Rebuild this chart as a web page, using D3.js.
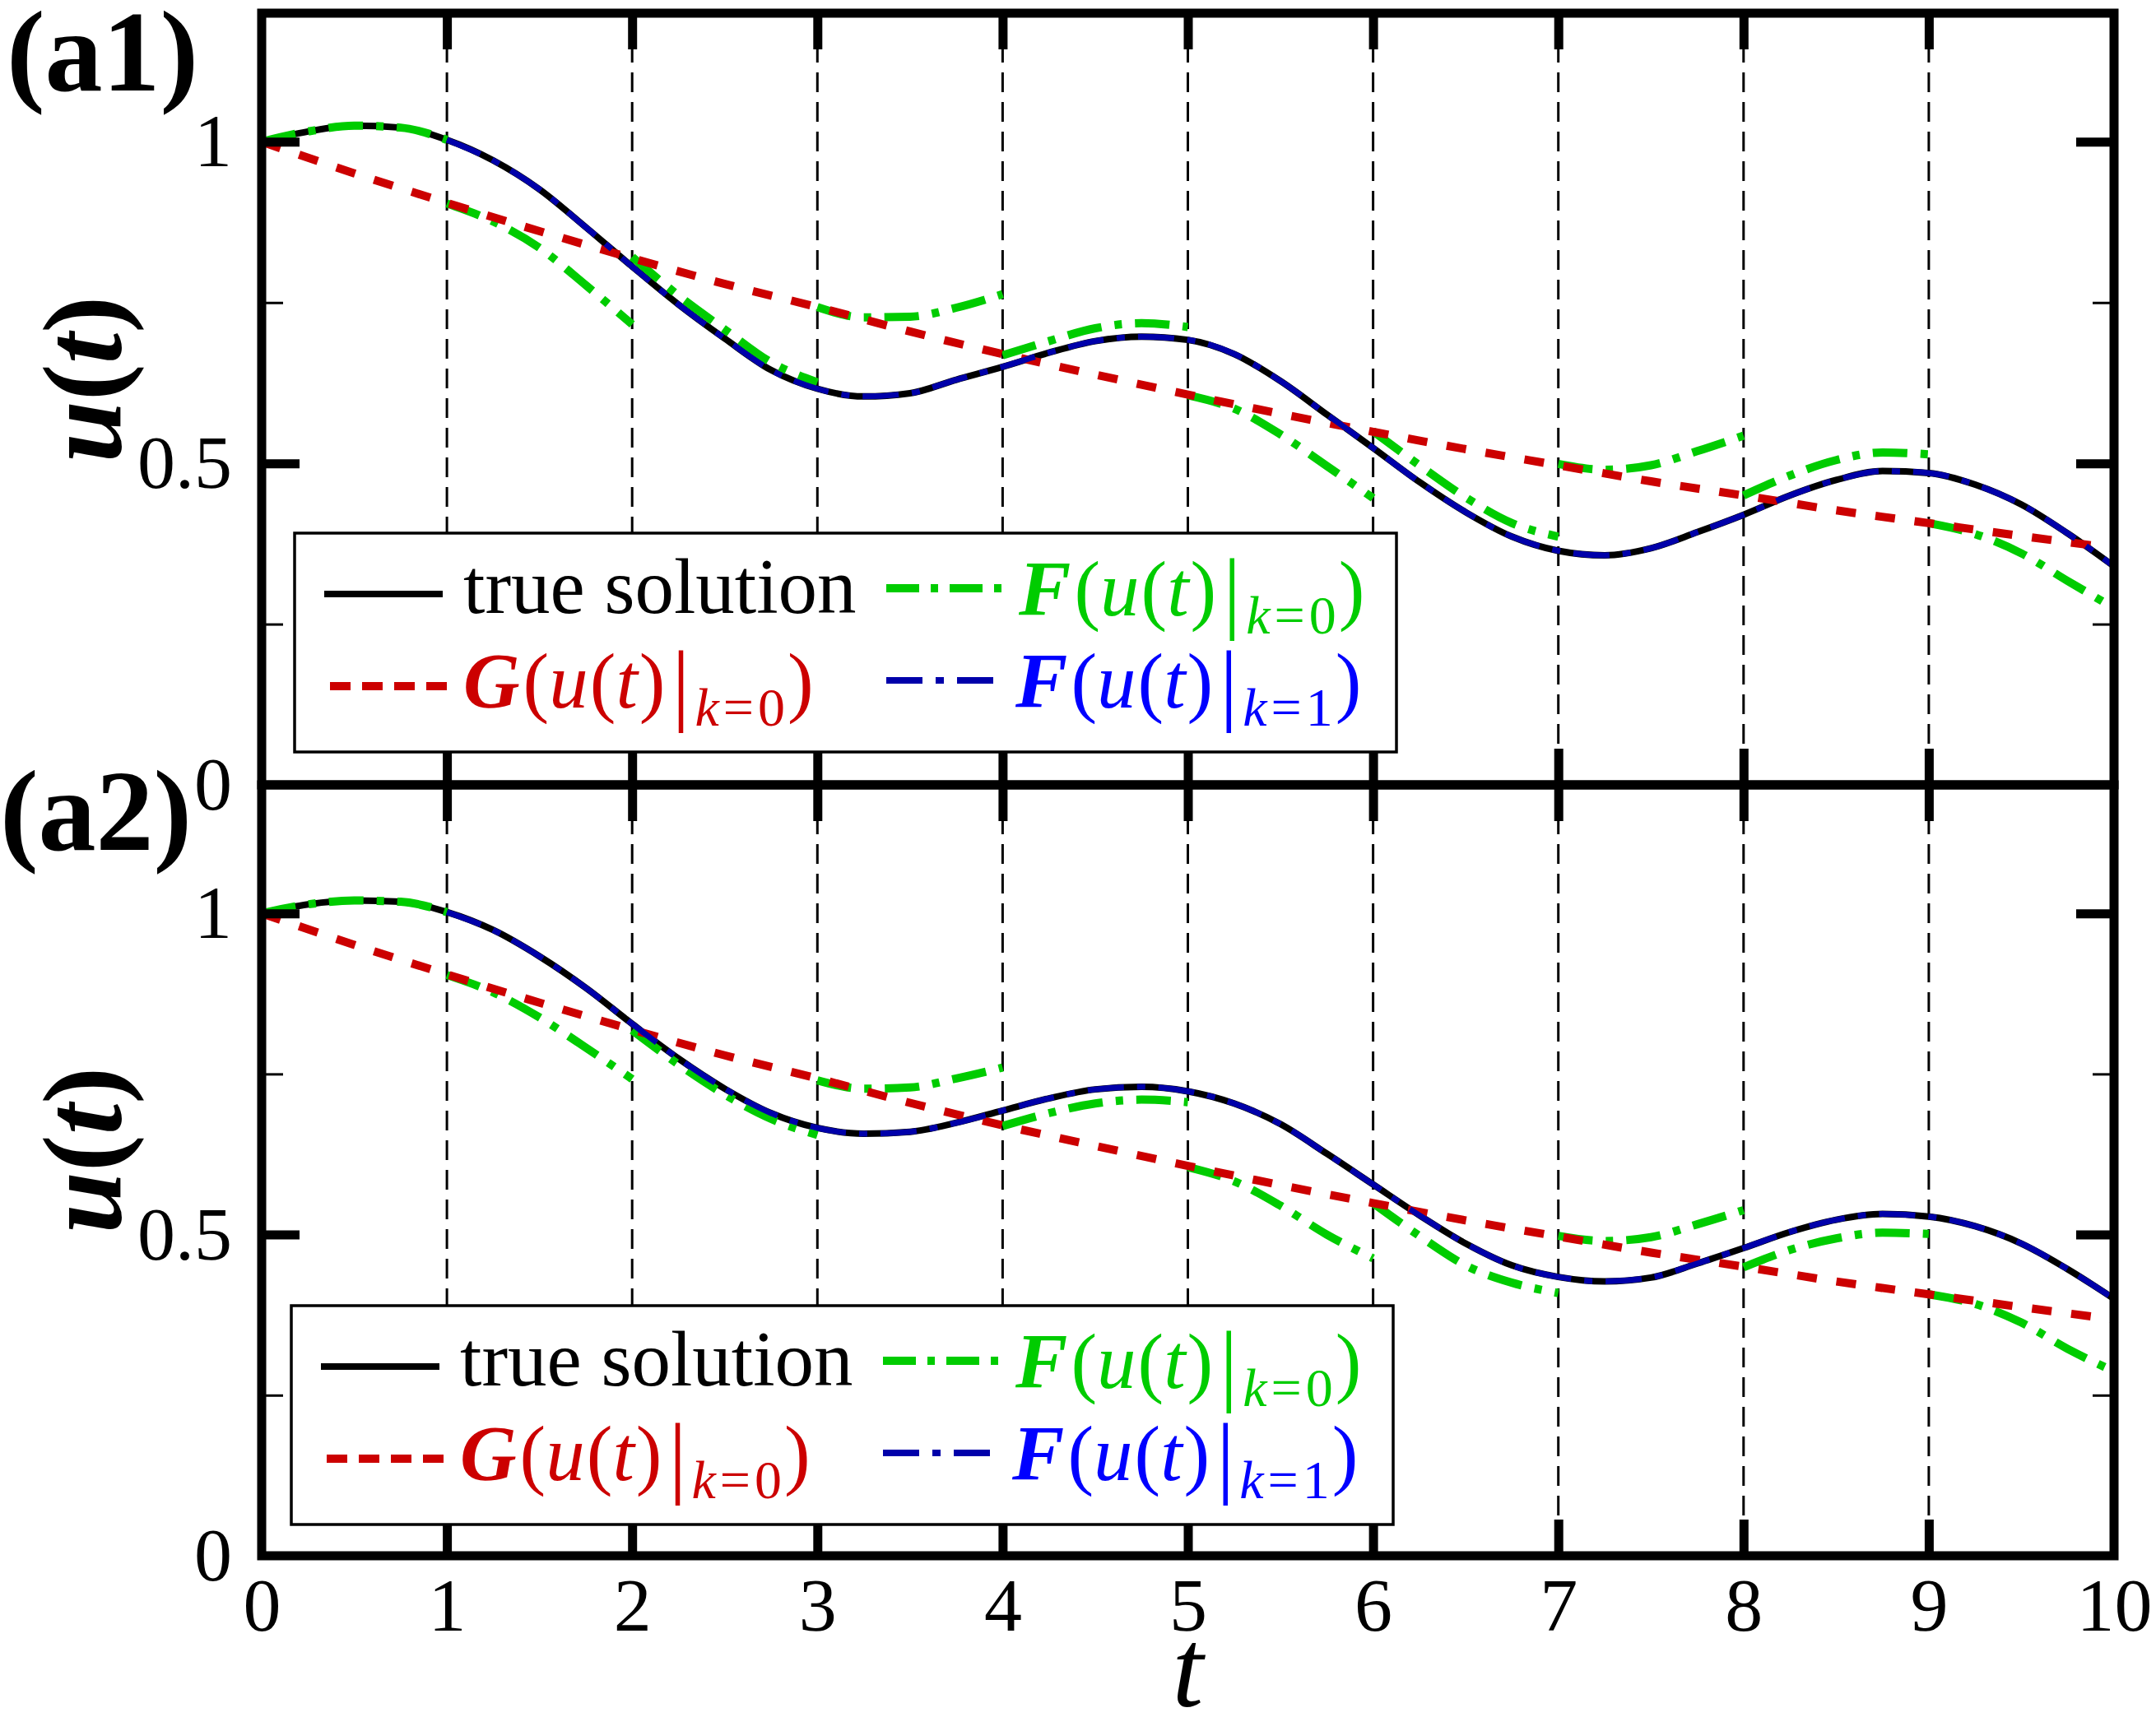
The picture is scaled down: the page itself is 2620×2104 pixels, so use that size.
<!DOCTYPE html>
<html>
<head>
<meta charset="utf-8">
<script src="https://cdn.jsdelivr.net/npm/d3@7"></script>
<style>
  body { margin: 0; background: #fff; }
  svg { display: block; }
  text { font-family: "Liberation Serif", "Times New Roman", serif; }
</style>
</head>
<body>
<svg id="chart" width="2620" height="2104"></svg>
<script>
// ---- data ----
const tGrid = [0, 0.25, 0.5, 0.75, 1, 1.25, 1.5, 1.75, 2, 2.25, 2.5, 2.75, 3, 3.25, 3.5, 3.75, 4, 4.25, 4.5, 4.75,
               5, 5.25, 5.5, 5.75, 6, 6.25, 6.5, 6.75, 7, 7.25, 7.5, 7.75, 8, 8.25, 8.5, 8.75, 9, 9.25, 9.5, 9.75, 10];

const trueA1 = [1.000, 1.016, 1.025, 1.022, 1.003, 0.971, 0.926, 0.867, 0.806, 0.747, 0.694, 0.645, 0.616, 0.604,
                0.609, 0.630, 0.650, 0.672, 0.690, 0.697, 0.692, 0.670, 0.628, 0.576, 0.524, 0.471, 0.424, 0.386,
                0.364, 0.357, 0.368, 0.393, 0.420, 0.450, 0.474, 0.488, 0.485, 0.467, 0.436, 0.391, 0.340];
const trueA2 = [1.000, 1.014, 1.020, 1.018, 1.002, 0.974, 0.933, 0.884, 0.828, 0.774, 0.727, 0.689, 0.666, 0.657,
                0.660, 0.674, 0.693, 0.712, 0.726, 0.730, 0.723, 0.704, 0.672, 0.626, 0.578, 0.530, 0.486, 0.452,
                0.434, 0.427, 0.433, 0.455, 0.479, 0.504, 0.523, 0.532, 0.528, 0.513, 0.486, 0.446, 0.400];

// F(u(t)|k=1), from t = 1 onwards (same grid, starting at index 4)
const fineK1A1 = [1.003, 0.971, 0.926, 0.867, 0.806, 0.747, 0.694, 0.645, 0.616, 0.604,
                  0.609, 0.630, 0.650, 0.672, 0.690, 0.697, 0.692, 0.670, 0.628, 0.576, 0.524, 0.471, 0.424, 0.386,
                  0.364, 0.357, 0.368, 0.393, 0.420, 0.450, 0.474, 0.488, 0.485, 0.467, 0.436, 0.391, 0.340];
const fineK1A2 = [1.002, 0.974, 0.933, 0.884, 0.828, 0.774, 0.727, 0.689, 0.666, 0.657,
                  0.660, 0.674, 0.693, 0.712, 0.726, 0.730, 0.723, 0.704, 0.672, 0.626, 0.578, 0.530, 0.486, 0.452,
                  0.434, 0.427, 0.433, 0.455, 0.479, 0.504, 0.523, 0.532, 0.528, 0.513, 0.486, 0.446, 0.400];

// G(u(t)|k=0), coarse propagator
const gTimes  = [0, 0.5, 1, 1.5, 2, 2.5, 3, 3.5, 4, 4.5, 5, 5.5, 6, 6.5, 7, 7.5, 8, 8.5, 9, 9.5, 10];
const gCoarse = [1.000, 0.951, 0.905, 0.861, 0.819, 0.779, 0.743, 0.705, 0.670, 0.638, 0.607,
                 0.577, 0.549, 0.522, 0.497, 0.472, 0.450, 0.427, 0.407, 0.387, 0.368];

// F(u(t)|k=0): one piece per time slice [n, n+1], sampled at n + sliceOffsets
const sliceOffsets = [0, 0.25, 0.5, 0.75, 1];
const fineK0A1 = [
  [1.000, 1.016, 1.025, 1.022, 1.003],
  [0.904, 0.876, 0.835, 0.777, 0.716],
  [0.821, 0.761, 0.708, 0.657, 0.626],
  [0.743, 0.727, 0.728, 0.742, 0.763],
  [0.668, 0.690, 0.710, 0.718, 0.712],
  [0.606, 0.585, 0.545, 0.496, 0.446],
  [0.550, 0.497, 0.447, 0.407, 0.386],
  [0.499, 0.490, 0.497, 0.519, 0.543],
  [0.450, 0.481, 0.505, 0.517, 0.514],
  [0.407, 0.390, 0.360, 0.317, 0.275]
];
const fineK0A2 = [
  [1.000, 1.014, 1.020, 1.018, 1.002],
  [0.904, 0.877, 0.838, 0.791, 0.742],
  [0.818, 0.765, 0.718, 0.680, 0.655],
  [0.740, 0.727, 0.729, 0.743, 0.760],
  [0.669, 0.689, 0.704, 0.710, 0.706],
  [0.605, 0.583, 0.545, 0.500, 0.463],
  [0.549, 0.498, 0.452, 0.425, 0.409],
  [0.498, 0.490, 0.496, 0.516, 0.538],
  [0.449, 0.476, 0.494, 0.503, 0.501],
  [0.407, 0.392, 0.363, 0.322, 0.287]
];

const xTicks = [0, 1, 2, 3, 4, 5, 6, 7, 8, 9, 10];
const xTickLabels = ["0", "1", "2", "3", "4", "5", "6", "7", "8", "9", "10"];
const yMajor = [0, 0.5, 1];
const yTickLabels = ["0", "0.5", "1"];
const yMinor = [0.25, 0.75];
const sliceLines = [1, 2, 3, 4, 5, 6, 7, 8, 9];
const panelTags = ["(a1)", "(a2)"];

// ---- drawing ----
const svg = d3.select("#chart");
const x = d3.scaleLinear().domain([0, 10]).range([318, 2569]);

const panels = [
  { top: 16,  bottom: 954,  tag: panelTags[0], truth: trueA1, k0: fineK0A1, k1: fineK1A1, tagY: 110,  tagX: 8 },
  { top: 954, bottom: 1891, tag: panelTags[1], truth: trueA2, k0: fineK0A2, k1: fineK1A2, tagY: 1033, tagX: 0 }
];

const green = "#00cc00", red = "#cc0000", blueLine = "#0000aa", blueText = "#0000ff";
const dashRed = "24,24", dashGreen = "42,16,9,16", dashBlue = "44,16,10,16";

panels.forEach((p, pi) => {
  const y = d3.scaleLinear().domain([0, 1.2]).range([p.bottom, p.top]);
  const g = svg.append("g");
  const line = d3.line().x(d => x(d[0])).y(d => y(d[1])).curve(d3.curveMonotoneX);

  // slice boundaries
  g.selectAll("line.slice").data(sliceLines).join("line")
    .attr("x1", d => x(d)).attr("x2", d => x(d))
    .attr("y1", p.top).attr("y2", p.bottom)
    .attr("stroke", "#000").attr("stroke-width", 3).attr("stroke-dasharray", "24,12");

  // true solution
  g.append("path").datum(tGrid.map((t, i) => [t, p.truth[i]]))
    .attr("d", line).attr("fill", "none").attr("stroke", "#000").attr("stroke-width", 8);

  // F(u|k=0) pieces
  p.k0.forEach((vals, n) => {
    g.append("path").datum(sliceOffsets.map((o, i) => [n + o, vals[i]]))
      .attr("d", line).attr("fill", "none").attr("stroke", green).attr("stroke-width", 10)
      .attr("stroke-dasharray", dashGreen);
  });

  // G(u|k=0)
  g.append("path").datum(gTimes.map((t, i) => [t, gCoarse[i]]))
    .attr("d", line).attr("fill", "none").attr("stroke", red).attr("stroke-width", 10)
    .attr("stroke-dasharray", dashRed);

  // F(u|k=1)
  g.append("path").datum(p.k1.map((v, i) => [tGrid[i + 4], v]))
    .attr("d", line).attr("fill", "none").attr("stroke", blueLine).attr("stroke-width", 7)
    .attr("stroke-dasharray", dashBlue);

  // ticks
  const styleTicks = (sel, w) => {
    sel.select(".domain").remove();
    sel.selectAll(".tick line").attr("stroke", "#000").attr("stroke-width", w);
    sel.selectAll(".tick text").remove();
  };
  g.append("g").attr("transform", `translate(0,${p.bottom})`)
    .call(d3.axisBottom(x).tickValues(sliceLines).tickSize(-44)).call(s => styleTicks(s, 11));
  g.append("g").attr("transform", `translate(0,${p.top})`)
    .call(d3.axisTop(x).tickValues(sliceLines).tickSize(-44)).call(s => styleTicks(s, 11));
  g.append("g").attr("transform", `translate(${x(0)},0)`)
    .call(d3.axisLeft(y).tickValues([0.5, 1]).tickSize(-46)).call(s => styleTicks(s, 11));
  g.append("g").attr("transform", `translate(${x(0)},0)`)
    .call(d3.axisLeft(y).tickValues(yMinor).tickSize(-26)).call(s => styleTicks(s, 3));
  g.append("g").attr("transform", `translate(${x(10)},0)`)
    .call(d3.axisRight(y).tickValues([0.5, 1]).tickSize(-46)).call(s => styleTicks(s, 11));
  g.append("g").attr("transform", `translate(${x(10)},0)`)
    .call(d3.axisRight(y).tickValues(yMinor).tickSize(-26)).call(s => styleTicks(s, 3));

  // frame
  g.append("rect").attr("x", x(0)).attr("y", p.top)
    .attr("width", x(10) - x(0)).attr("height", p.bottom - p.top)
    .attr("fill", "none").attr("stroke", "#000").attr("stroke-width", 11);

  // y tick labels
  const yl = g.append("g").attr("transform", `translate(${x(0)},0)`)
    .call(d3.axisLeft(y).tickValues(yMajor).tickSize(0).tickPadding(36)
      .tickFormat((d, i) => yTickLabels[i]));
  yl.select(".domain").remove();
  yl.selectAll("text").attr("font-size", 92).attr("font-family", "Liberation Serif").attr("fill", "#000");

  // y axis title u(t)
  const yt = g.append("text")
    .attr("transform", `translate(146,${461 + pi * 937}) rotate(-90)`)
    .attr("text-anchor", "middle").attr("font-size", 135).attr("font-weight", "bold");
  yt.append("tspan").attr("font-style", "italic").text("u");
  yt.append("tspan").text("(");
  yt.append("tspan").attr("font-style", "italic").text("t");
  yt.append("tspan").text(")");

  // panel tag
  g.append("text").attr("x", p.tagX).attr("y", p.tagY)
    .attr("font-size", 140).attr("font-weight", "bold").text(p.tag);

  // legend
  const lg = g.append("g").attr("transform", `translate(${pi === 0 ? 358 : 354},${648 + pi * 939})`);
  lg.append("rect").attr("width", 1339).attr("height", 266)
    .attr("fill", "#fff").attr("stroke", "#000").attr("stroke-width", 3.5);

  lg.append("line").attr("x1", 36).attr("x2", 180).attr("y1", 74).attr("y2", 74)
    .attr("stroke", "#000").attr("stroke-width", 8);
  lg.append("text").attr("x", 205).attr("y", 97).attr("font-size", 95).text("true solution");

  lg.append("line").attr("x1", 719).attr("x2", 865).attr("y1", 67).attr("y2", 67)
    .attr("stroke", green).attr("stroke-width", 10).attr("stroke-dasharray", "40,14,9,14");
  formula(lg, 880, 100, green, "F", "0");

  lg.append("line").attr("x1", 43).attr("x2", 186).attr("y1", 186).attr("y2", 186)
    .attr("stroke", red).attr("stroke-width", 10).attr("stroke-dasharray", "25,14");
  formula(lg, 205, 212, red, "G", "0");

  lg.append("line").attr("x1", 719).attr("x2", 865).attr("y1", 179).attr("y2", 179)
    .attr("stroke", blueLine).attr("stroke-width", 8).attr("stroke-dasharray", "44,16,10,16");
  formula(lg, 876, 212, blueText, "F", "1");
});

function formula(sel, fx, fy, color, head, k) {
  const t = sel.append("text").attr("x", fx).attr("y", fy).attr("fill", color).attr("font-size", 95);
  t.append("tspan").attr("font-weight", "bold").attr("font-style", "italic").text(head);
  t.append("tspan").attr("dx", 4).text("(");
  t.append("tspan").attr("font-style", "italic").text("u");
  t.append("tspan").attr("dx", 2).text("(");
  t.append("tspan").attr("font-style", "italic").text("t");
  t.append("tspan").attr("dx", 2).text(")");
  t.append("tspan").attr("dx", 8).attr("font-size", 110).attr("dy", 8).text("|");
  t.append("tspan").attr("dx", 6).attr("dy", 14).attr("font-size", 66).attr("font-style", "italic").text("k");
  t.append("tspan").attr("dx", 5).attr("font-size", 66).text("=");
  t.append("tspan").attr("dx", 5).attr("font-size", 66).text(k);
  t.append("tspan").attr("dy", -22).attr("dx", 3).text(")");
}

// x tick labels and title
const xl = svg.append("g").attr("transform", `translate(0,${panels[1].bottom})`)
  .call(d3.axisBottom(x).tickValues(xTicks).tickSize(0).tickPadding(26)
    .tickFormat((d, i) => xTickLabels[i]));
xl.select(".domain").remove();
xl.selectAll("text").attr("font-size", 92).attr("font-family", "Liberation Serif").attr("fill", "#000");

svg.append("text").attr("x", x(5)).attr("y", 2074).attr("text-anchor", "middle")
  .attr("font-size", 136).attr("font-style", "italic").text("t");
</script>
</body>
</html>
